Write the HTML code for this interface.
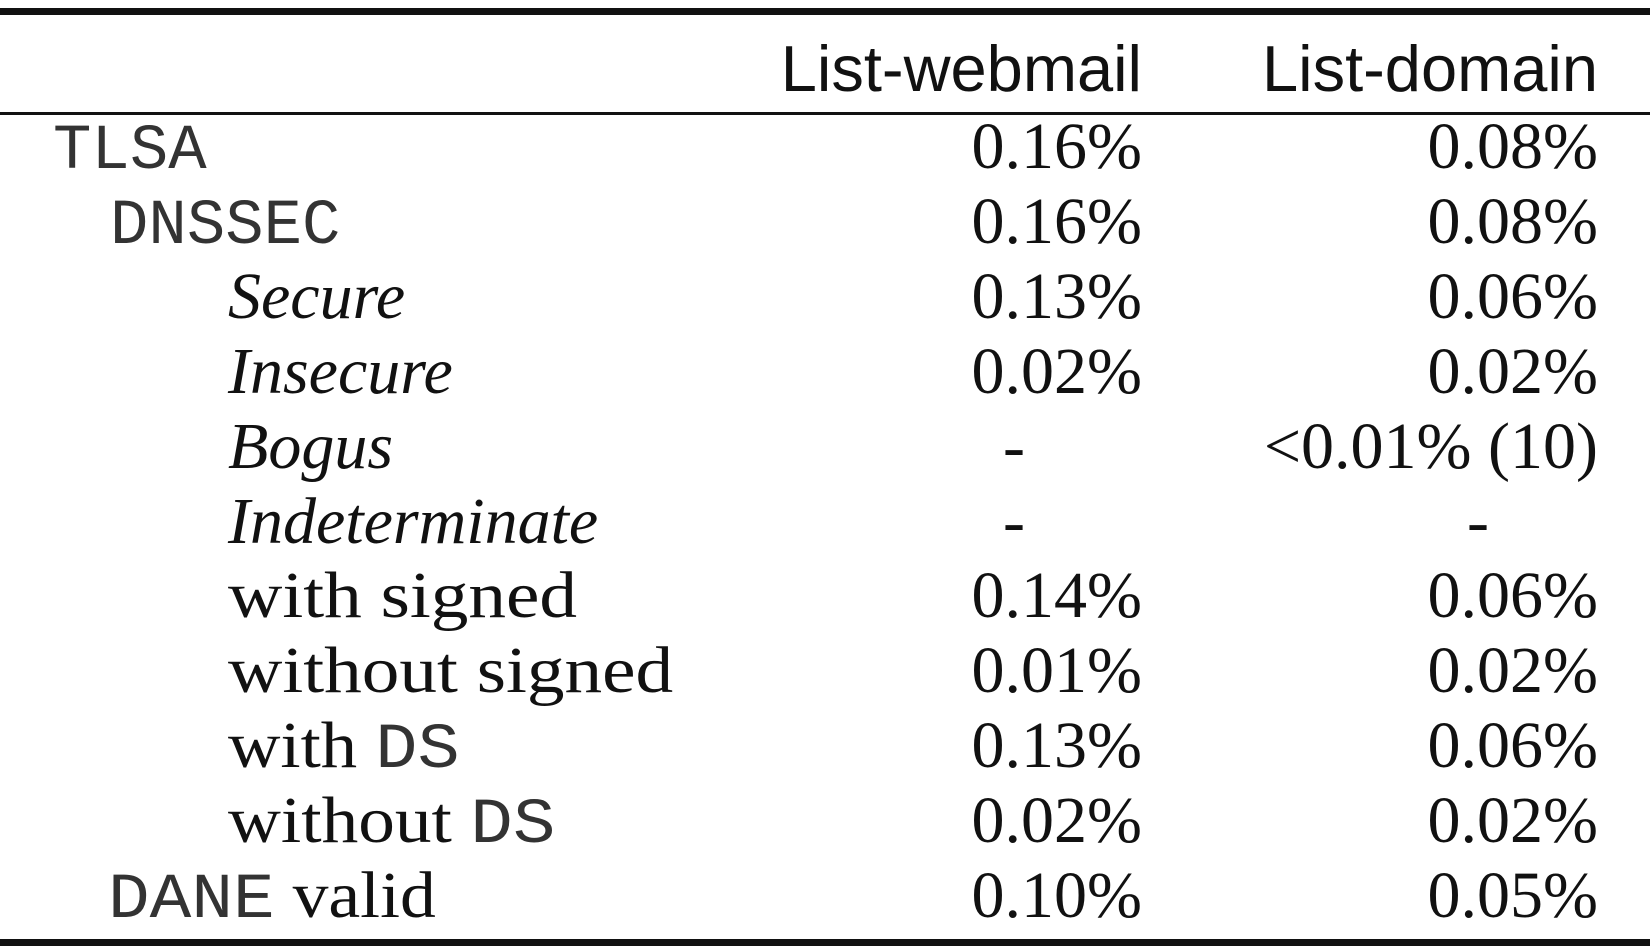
<!DOCTYPE html>
<html><head><meta charset="utf-8"><style>
body{margin:0;background:#fff;width:1650px;height:950px;position:relative;overflow:hidden;color:#111}
.r{position:absolute;left:0;width:1650px;background:#111}
.t{position:absolute;font-family:"Liberation Serif",serif;font-size:66px;line-height:1;white-space:nowrap;transform-origin:0 0}
.m{font-family:"Liberation Mono",monospace;font-size:64px;font-weight:300;color:#333}
.i{font-style:italic}
.a{text-align:right}
.h{font-family:"Liberation Sans",sans-serif;font-size:65px}
</style></head><body>
<div class="r" style="top:8px;height:7px"></div>
<div class="r" style="top:112px;height:3px"></div>
<div class="r" style="top:939px;height:7px"></div>
<div class="t h a" style="right:508px;top:36px">List-webmail</div>
<div class="t h a" style="right:52px;top:36px">List-domain</div>
<div id="rows"></div>
<script>
var rows=[
['<span class="m">TLSA</span>',53,'0.16%','0.08%',1],
['<span class="m">DNSSEC</span>',110,'0.16%','0.08%',1],
['<span class="i">Secure</span>',228,'0.13%','0.06%',1],
['<span class="i">Insecure</span>',228,'0.02%','0.02%',1],
['<span class="i">Bogus</span>',228,'-','&lt;0.01% (10)',1],
['<span class="i">Indeterminate</span>',228,'-','-',1],
['with signed',228,'0.14%','0.06%',1.14],
['without signed',228,'0.01%','0.02%',1.14],
['with <span class="m">DS</span>',228,'0.13%','0.06%',1.10],
['without <span class="m">DS</span>',228,'0.02%','0.02%',1.11],
['<span class="m">DANE</span> valid',108,'0.10%','0.05%',1.085]];
var h='';
rows.forEach(function(r,k){var top=114+k*74.9;
h+='<div class="t" style="left:'+r[1]+'px;top:'+top+'px;transform:scaleX('+r[4]+')">'+r[0]+'</div>';
if(r[2]=='-')h+='<div class="t" style="left:1003px;top:'+top+'px">-</div>';else h+='<div class="t a" style="right:508px;top:'+top+'px">'+r[2]+'</div>';
if(r[3]=='-')h+='<div class="t" style="left:1467px;top:'+top+'px">-</div>';else h+='<div class="t a" style="right:52px;top:'+top+'px">'+r[3]+'</div>';
});
document.getElementById('rows').innerHTML=h;
</script>
</body></html>
